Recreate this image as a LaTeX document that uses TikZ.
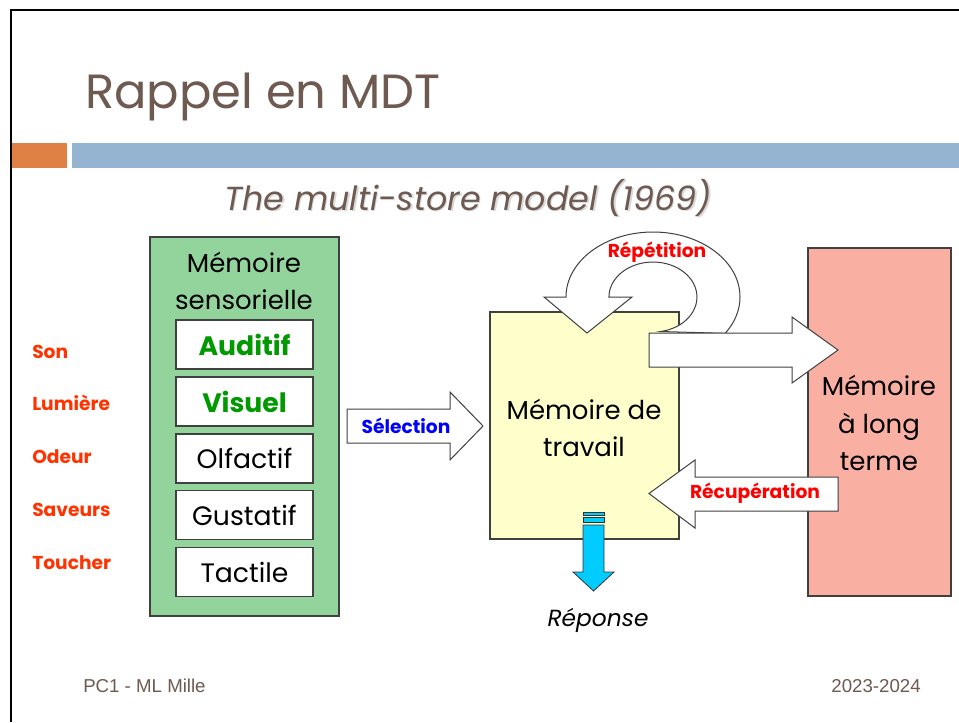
\documentclass[tikz,border=0pt]{standalone}
\usepackage{fontspec}
\setmainfont{Poppins}
\newfontfamily\footfont{Liberation Sans}
\usetikzlibrary{positioning}
\definecolor{SlideText}{HTML}{6E5A50}
\definecolor{SlideOrange}{HTML}{DF8145}
\definecolor{SlideBlue}{HTML}{94B4D2}
\definecolor{StoreSensory}{HTML}{92D49C}
\definecolor{StoreWorking}{HTML}{FFFFCC}
\definecolor{StoreLong}{HTML}{F9B0A3}
\definecolor{InputRed}{HTML}{FF3300}
\definecolor{ChannelGreen}{HTML}{009900}
\definecolor{ResponseCyan}{HTML}{00CCFF}
\colorlet{StoreBorder}{black!75}

\begin{document}
\begin{tikzpicture}[x=0.75pt, y=-0.75pt,
        store/.style={draw=StoreBorder, line width=0.8pt, inner sep=0pt},
        storetext/.style={align=center, font=\fontsize{19.5}{28}\selectfont},
        channel/.style={draw=StoreBorder, fill=white, line width=0.8pt, minimum width=102.75pt, minimum height=36.75pt, inner sep=0pt, font=\fontsize{20}{24}\selectfont},
        chanhi/.style={text=ChannelGreen, font=\fontsize{20}{24}\selectfont\bfseries},
        chanlo/.style={text=black},
        input/.style={anchor=base west, text=InputRed, font=\fontsize{14}{16}\selectfont\bfseries},
        blockarrow/.style={draw=StoreBorder, fill=white, line width=0.75pt, line join=miter},
        arrowtext/.style={font=\fontsize{14}{16}\selectfont\bfseries}
    ]

    % Background
    \useasboundingbox (0,0) rectangle (959,722);
    \fill[white] (0,0) rectangle (959,722);
    \draw[black, line width=1.5pt] (11,722) -- (11,10) -- (959,10);

    % Title and bars
    \node[anchor=base west, inner sep=0pt, text=SlideText, font=\fontsize{36}{40}\selectfont] (title) at (85,108) {Rappel en MDT};
    \fill[SlideOrange] (12,143) rectangle (67,168);
    \fill[SlideBlue] (72,143) rectangle (959,168);
    \node[anchor=base, inner sep=0pt, text=black!15, font=\fontsize{25}{30}\itshape] (subshadow) at (469.5,211.5) {The multi-store model (1969)};
    \node[anchor=base, inner sep=0pt, text=SlideText, font=\fontsize{25}{30}\itshape] (subtitle) at (468,210) {The multi-store model (1969)};

    % Inputs
    \foreach \n/\y/\t in {son/358/Son, lum/410/Lumière, odeur/463/Odeur, saveur/516/Saveurs, toucher/569/Toucher}
        \node[input, inner sep=0pt] (\n) at (32,\y) {\t};

    % Stores
    \node[store, fill=StoreSensory, minimum width=141.75pt, minimum height=284.25pt] (sensory) at (244.5,426.5) {};
    \node[storetext] (sensorytext) at (244,281) {Mémoire\\sensorielle};
    \foreach \n/\y/\t/\s in {aud/344.5/Auditif/chanhi, vis/401.5/Visuel/chanhi, olf/458.5/Olfactif/chanlo, gus/515/Gustatif/chanlo, tac/572/Tactile/chanlo}
        \node[channel, \s] (\n) at (244.5,\y) {\t};
    \node[store, fill=StoreWorking, minimum width=141.75pt, minimum height=170.25pt] (working) at (584.5,425.5) {};
    \node[storetext] (workingtext) at (584,428) {Mémoire de\\travail};
    \node[store, fill=StoreLong, minimum width=107.25pt, minimum height=261pt] (longterm) at (879.5,422) {};
    \node[storetext] (longtext) at (879,423) {Mémoire\\à long\\terme};

    % Selection
    \draw[blockarrow] (347,409) -- (450,409) -- (450,392) -- (483,426) -- (450,460) -- (450,443) -- (347,443) -- cycle;
    \node[arrowtext, text=blue] (sel) at (406,426) {Sélection};

    % Repetition loop
    \draw[blockarrow] (566,297) arc[start angle=180, end angle=-34, x radius=65.25pt, y radius=48.75pt]
        -- (660.6,331.5) arc[start angle=-80, end angle=180, x radius=33pt, y radius=26.25pt]
        -- (632,297) -- (587,333) -- (544,297) -- cycle;
    \node[arrowtext, text=red] (rep) at (657,252) {Répétition};

    % Storage and retrieval
    \draw[blockarrow] (649,333) -- (792,333) -- (792,317) -- (838,350) -- (792,383) -- (792,367) -- (649,367) -- cycle;
    \draw[blockarrow] (838,477) -- (695,477) -- (695,460) -- (649,493.5) -- (695,528) -- (695,511) -- (838,511) -- cycle;
    \node[arrowtext, text=red] (rec) at (755,493.5) {Récupération};

    % Response
    \draw[fill=ResponseCyan, draw=black!80, line width=0.6pt] (583,512) rectangle (604,515);
    \draw[fill=ResponseCyan, draw=black!80, line width=0.6pt] (583,517) rectangle (604,522);
    \draw[fill=ResponseCyan, draw=black!80, line width=0.6pt] (583,525) -- (604,525) -- (604,572) -- (614,572) -- (593.5,591) -- (573,572) -- (583,572) -- cycle;
    \node[font=\fontsize{17.5}{20}\itshape] (resp) at (598,620) {Réponse};

    % Footer
    \node[anchor=base west, inner sep=0pt, text=SlideText, font=\footfont\fontsize{14}{16}\selectfont] (author) at (83,692) {PC1 - ML Mille};
    \node[anchor=base east, inner sep=0pt, text=SlideText, font=\footfont\fontsize{14}{16}\selectfont] (year) at (921,692) {2023-2024};

\end{tikzpicture}
\end{document}
